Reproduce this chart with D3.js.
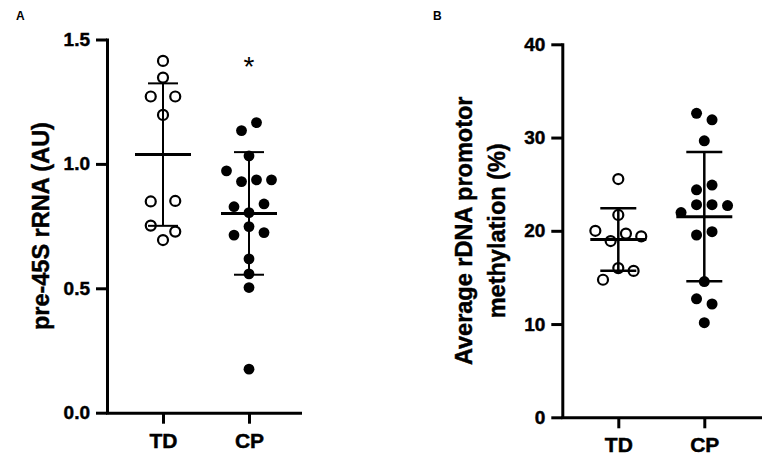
<!DOCTYPE html>
<html>
<head>
<meta charset="utf-8">
<script src="https://cdn.jsdelivr.net/npm/d3@7"></script>
<style>
  html, body { margin: 0; padding: 0; background: #fff; }
  svg { display: block; font-family: "Liberation Sans", Arial, sans-serif; }
</style>
</head>
<body>
<svg id="chart" width="766" height="458"></svg>
<script>
// ---------------- data ----------------
const categories = ["TD", "CP"];

// Panel A: pre-45S rRNA (AU)
const rnaTD = [1.414, 1.347, 1.271, 1.271, 1.197, 0.849, 0.851, 0.752, 0.728, 0.694];
const rnaCP = [1.134, 1.166, 1.032, 0.972, 0.929, 0.936, 0.936, 0.828, 0.804, 0.839,
               0.714, 0.748, 0.724, 0.618, 0.558, 0.503, 0.175];
const rnaTicks = [0, 0.5, 1.0, 1.5];
const rnaTickLabels = ["0.0", "0.5", "1.0", "1.5"];

// Panel B: Average rDNA promotor methylation (%)
const methTD = [25.55, 21.7, 20.0, 18.9, 19.7, 19.4, 14.75, 16.0, 15.7];
const methCP = [32.6, 31.9, 29.65, 24.4, 24.9, 21.95, 22.8, 22.8, 22.7, 19.55, 19.9,
                14.55, 12.7, 12.15, 10.15];
const methTicks = [0, 10, 20, 30, 40];
const methTickLabels = ["0", "10", "20", "30", "40"];

// ---------------- drawing ----------------
const svg = d3.select("#chart");
const FONT = '"Liberation Sans", Arial, sans-serif';

function boldText(sel, size) {
  sel.attr("font-family", FONT).attr("font-size", size).attr("font-weight", "bold")
    .attr("fill", "#000").attr("stroke", "#000").attr("stroke-width", 0.45);
}

// lay out points in horizontal rows (column scatter)
function swarm(values, yScale, step, rowThresh) {
  const order = values.map((v, i) => i).sort((a, b) => values[b] - values[a]);
  const rows = [];
  let cur = null;
  order.forEach(i => {
    const py = yScale(values[i]);
    if (!cur || py - cur.y0 > rowThresh) { cur = { y0: py, idx: [] }; rows.push(cur); }
    cur.idx.push(i);
  });
  const off = new Array(values.length).fill(0);
  rows.forEach(r => {
    r.idx.sort((a, b) => a - b);
    const n = r.idx.length;
    r.idx.forEach((i, k) => { off[i] = (k - (n - 1) / 2) * step; });
  });
  return off;
}

function panel(cfg) {
  const g = svg.append("g");
  const y = d3.scaleLinear().domain(cfg.domain).range([cfg.yBottom, cfg.yTop]);
  const x = d3.scalePoint().domain(categories).range([cfg.axisX + cfg.firstOff, cfg.axisX + cfg.firstOff + 86]);

  cfg.series.forEach((s, si) => {
    const cx = x(categories[si]);
    const off = swarm(s.values, y, s.step, 13);
    g.append("g").selectAll("circle").data(s.values).join("circle")
      .attr("cx", (d, i) => cx + off[i])
      .attr("cy", d => y(d))
      .attr("r", s.open ? cfg.rOpen : cfg.rFill)
      .attr("fill", s.open ? "none" : "#000")
      .attr("stroke", s.open ? "#000" : "none")
      .attr("stroke-width", 2.2);

    // mean ± SD
    const m = d3.mean(s.values), sd = d3.deviation(s.values);
    const eb = g.append("g").attr("stroke", "#000");
    eb.append("line").attr("x1", cx).attr("x2", cx).attr("y1", y(m + sd)).attr("y2", y(m - sd))
      .attr("stroke-width", cfg.vw);
    [m + sd, m - sd].forEach(v => {
      eb.append("line").attr("x1", cx - cfg.capW).attr("x2", cx + cfg.capW)
        .attr("y1", y(v)).attr("y2", y(v)).attr("stroke-width", cfg.capSW);
    });
    eb.append("line").attr("x1", cx - cfg.meanW).attr("x2", cx + cfg.meanW)
      .attr("y1", y(m)).attr("y2", y(m)).attr("stroke-width", 3);
  });

  // y axis
  const ya = g.append("g").attr("transform", `translate(${cfg.axisX},0)`)
    .call(d3.axisLeft(y).tickValues(cfg.ticks).tickFormat((d, i) => cfg.tickLabels[i])
      .tickSize(11).tickPadding(6).tickSizeOuter(0));
  ya.select(".domain").attr("stroke-width", 3).attr("d", `M0.5,${cfg.yTop - 1}V${cfg.yBottom + 1.5}`);
  ya.selectAll(".tick line").attr("stroke-width", 3);
  boldText(ya.selectAll(".tick text"), 19);

  // x axis
  const xa = g.append("g").attr("transform", `translate(0,${cfg.yBottom})`)
    .call(d3.axisBottom(x).tickSize(11).tickPadding(9).tickSizeOuter(0));
  xa.select(".domain").remove();
  xa.append("line").attr("x1", cfg.axisX - 1).attr("x2", cfg.xEnd).attr("y1", 0.5).attr("y2", 0.5)
    .attr("stroke", "#000").attr("stroke-width", 3);
  xa.selectAll(".tick line").attr("stroke-width", 3);
  boldText(xa.selectAll(".tick text"), 21);

  // y label
  const lab = g.append("text").attr("text-anchor", "middle")
    .attr("transform", `translate(${cfg.labelX},${(cfg.yTop + cfg.yBottom) / 2}) rotate(-90)`);
  boldText(lab, cfg.labelSize);
  cfg.label.forEach((t, i) => {
    lab.append("tspan").attr("x", 0).attr("y", i * cfg.labelGap).text(t);
  });

  // panel letter
  g.append("text").attr("x", cfg.letterX).attr("y", 20).attr("font-family", FONT)
    .attr("font-size", 12).attr("font-weight", "bold").text(cfg.letter);
  return { g, x, y };
}

const A = panel({
  letter: "A", letterX: 16,
  domain: [0, 1.5], ticks: rnaTicks, tickLabels: rnaTickLabels,
  axisX: 107, yTop: 39.5, yBottom: 412.7, xEnd: 302, firstOff: 56,
  rOpen: 5, rFill: 5.4, vw: 2, capSW: 2, capW: 15, meanW: 28,
  label: ["pre-45S rRNA (AU)"], labelX: 49, labelGap: 0, labelSize: 23.5,
  series: [
    { values: rnaTD, open: true, step: 24.5 },
    { values: rnaCP, open: false, step: 15 }
  ]
});
// significance mark
A.g.append("text").attr("x", A.x("CP")).attr("y", 76).attr("text-anchor", "middle")
  .attr("font-family", FONT).attr("font-size", 28).text("*");

panel({
  letter: "B", letterX: 433,
  domain: [0, 40], ticks: methTicks, tickLabels: methTickLabels,
  axisX: 562.3, yTop: 44.3, yBottom: 417.3, xEnd: 762, firstOff: 56,
  rOpen: 5, rFill: 5.5, vw: 2.5, capSW: 2.5, capW: 18, meanW: 28,
  label: ["Average rDNA promotor", "methylation (%)"], labelX: 472, labelGap: 33, labelSize: 23.5,
  series: [
    { values: methTD, open: true, step: 15.3 },
    { values: methCP, open: false, step: 15.5 }
  ]
});
</script>
</body>
</html>
